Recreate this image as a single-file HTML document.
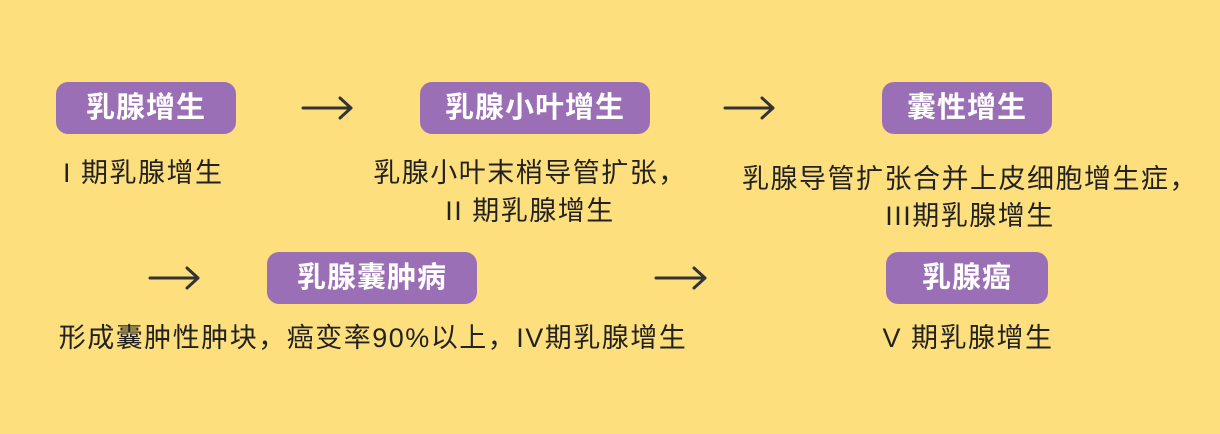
<!DOCTYPE html>
<html><head><meta charset="utf-8"><style>
body{margin:0;width:1220px;height:434px;background:#FEDF7E;position:relative;overflow:hidden;font-family:"Liberation Sans","Noto Sans CJK SC",sans-serif}
.b{position:absolute;height:52px;background:#9B6FB5;border-radius:12px;color:#fff;font-weight:bold;font-size:29px;line-height:52px;text-align:center;letter-spacing:1px}
.t{position:absolute;color:#222;font-size:27px;line-height:38px;text-align:center;white-space:nowrap;letter-spacing:1.5px}
svg{position:absolute;left:0;top:0}
</style></head><body>
<div class="b" style="left:56px;top:82px;width:180px">乳腺增生</div>
<div class="b" style="left:420px;top:82px;width:230px">乳腺小叶增生</div>
<div class="b" style="left:882px;top:82px;width:170px">囊性增生</div>
<div class="b" style="left:267px;top:252px;width:210px">乳腺囊肿病</div>
<div class="b" style="left:886px;top:252px;width:162px">乳腺癌</div>
<div class="t" style="left:63px;top:154px;text-align:left">I 期乳腺增生</div>
<div class="t" style="left:330px;top:154px;width:400px">乳腺小叶末梢导管扩张，<br>II 期乳腺增生</div>
<div class="t" style="left:730px;top:161px;width:480px;line-height:37px">乳腺导管扩张合并上皮细胞增生症，<br>III期乳腺增生</div>
<div class="t" style="left:23px;top:319px;width:700px">形成囊肿性肿块，癌变率90%以上，IV期乳腺增生</div>
<div class="t" style="left:768px;top:319px;width:400px">V 期乳腺增生</div>
<svg width="1220" height="434" fill="none" stroke="#333" stroke-width="3" stroke-linecap="round" stroke-linejoin="round">
<path d="M303 108H351M340 98L351 108L340 118"/>
<path d="M725 108H773M762 98L773 108L762 118"/>
<path d="M150 278H198M187 268L198 278L187 288"/>
<path d="M656 278H705M694 268L705 278L694 288"/>
</svg>
</body></html>
